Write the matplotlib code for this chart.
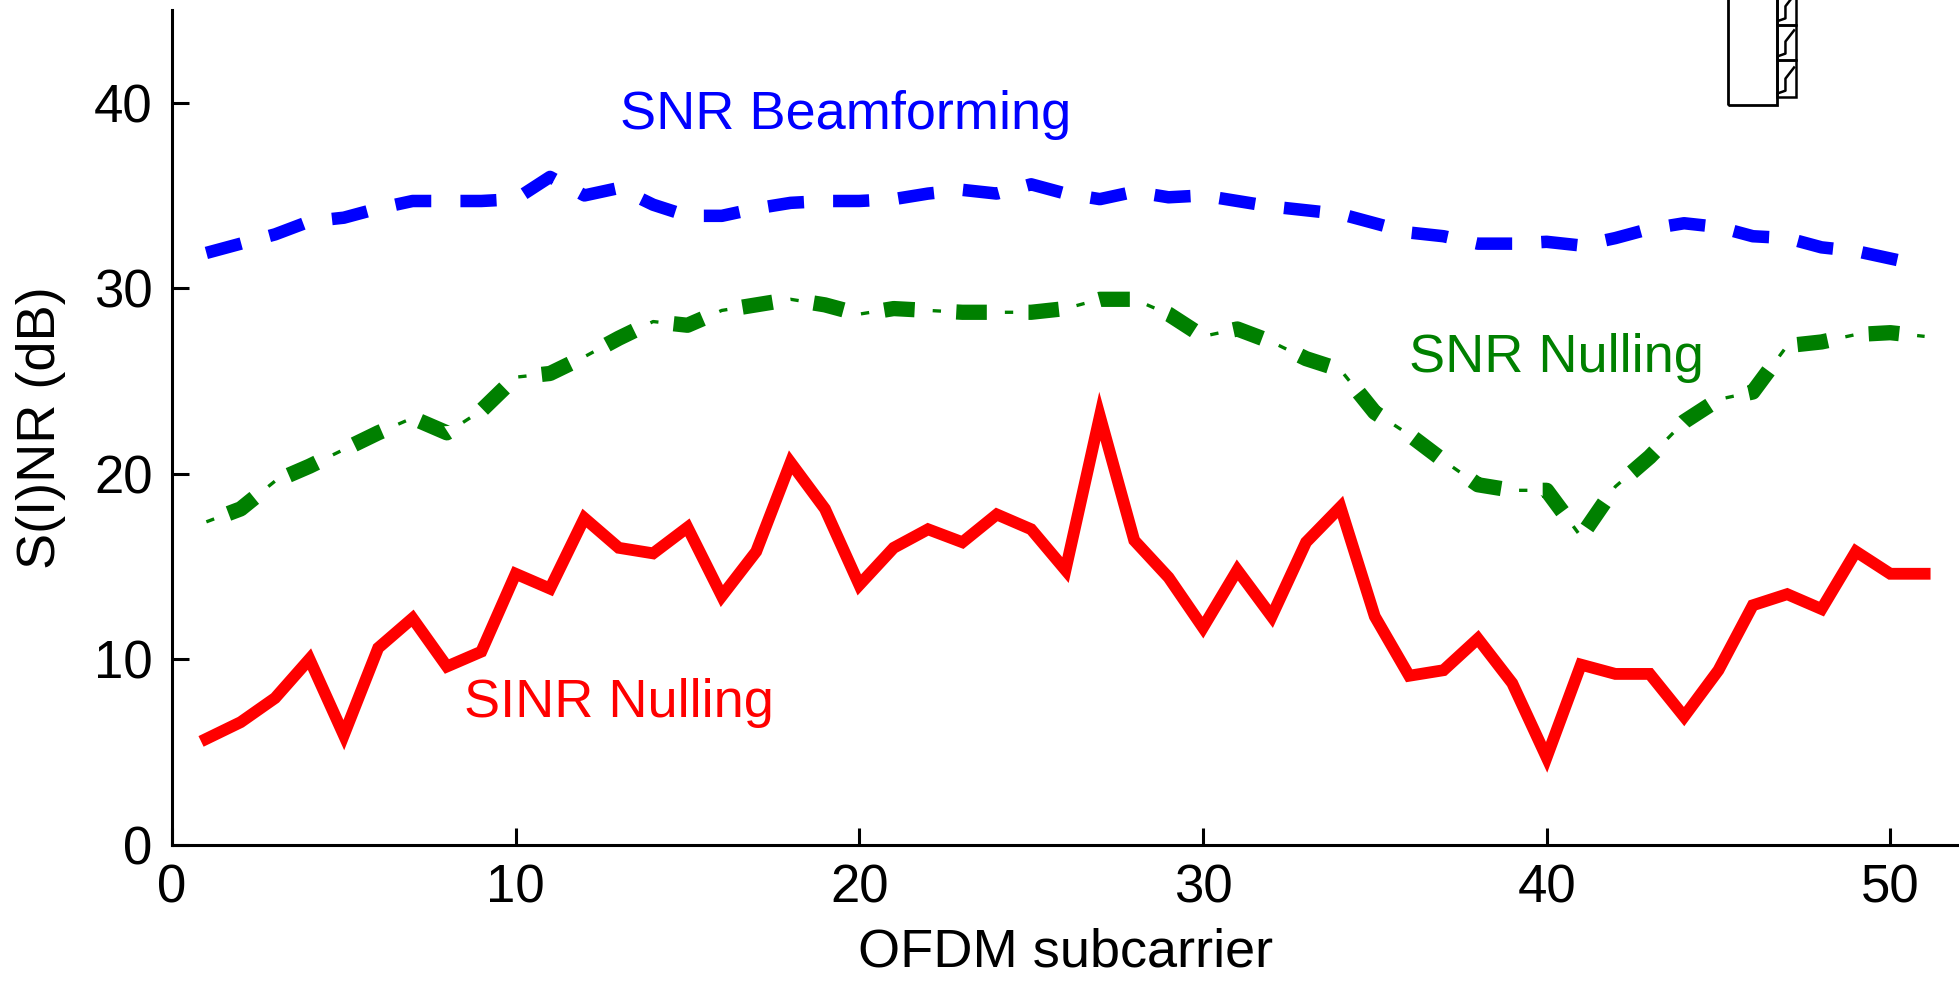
import numpy as np
import matplotlib.pyplot as plt
from matplotlib.patches import Rectangle

plt.rcParams['font.family'] = ['Liberation Sans', 'DejaVu Sans']
plt.rcParams['lines.scale_dashes'] = False

# subcarrier index
subcarrier = np.arange(1, 52)

snr_beamforming = [31.9, 32.4, 32.9, 33.6, 33.8, 34.3, 34.7, 34.7, 34.7, 34.8,
                   36.0, 35.0, 35.4, 34.5, 33.9, 33.9, 34.3, 34.6, 34.7, 34.7,
                   34.8, 35.1, 35.3, 35.1, 35.6, 35.1, 34.8, 35.2, 34.9, 35.0,
                   34.7, 34.4, 34.2, 34.0, 33.5, 33.0, 32.8, 32.4, 32.4, 32.5,
                   32.3, 32.7, 33.2, 33.5, 33.3, 32.8, 32.7, 32.2, 32.0, 31.6,
                   31.2]

snr_nulling = [17.4, 18.1, 19.6, 20.4, 21.3, 22.2, 23.0, 22.2, 23.4, 25.2,
               25.4, 26.3, 27.3, 28.2, 28.0, 28.8, 29.1, 29.4, 29.1, 28.6,
               28.9, 28.8, 28.7, 28.7, 28.7, 28.9, 29.4, 29.4, 28.6, 27.4,
               27.8, 27.1, 26.2, 25.6, 23.3, 22.1, 20.7, 19.4, 19.1, 19.1,
               16.6, 19.3, 20.9, 22.8, 24.0, 24.4, 26.9, 27.1, 27.5, 27.6,
               27.4]

sinr_nulling = [5.7, 6.6, 7.9, 10.0, 5.9, 10.6, 12.2, 9.6, 10.4, 14.6,
                13.8, 17.6, 16.0, 15.7, 17.1, 13.4, 15.8, 20.6, 18.1, 14.0,
                16.0, 17.0, 16.3, 17.8, 17.0, 14.8, 23.1, 16.4, 14.4, 11.7,
                14.8, 12.3, 16.3, 18.2, 12.3, 9.1, 9.4, 11.1, 8.7, 4.7,
                9.7, 9.2, 9.2, 6.9, 9.4, 12.9, 13.5, 12.7, 15.8, 14.6,
                14.6]

fig = plt.figure(figsize=(19.59, 9.88), dpi=100)
ax = fig.add_axes([0.0878, 0.1452, 0.9122, 0.8447])

blue = '#0000ff'
green = '#008000'
red = '#ff0000'

ax.plot(subcarrier, snr_beamforming, color=blue, lw=9,
        linestyle=(0, (26, 21)), dash_capstyle='butt')

# dash-dot: thick dashes plus thin ticks in between
period = 52
ax.plot(subcarrier, snr_nulling, color=green, lw=11,
        linestyle=(period - 17.0, (22, period - 22)), dash_capstyle='butt')
ax.plot(subcarrier, snr_nulling, color=green, lw=2.4,
        linestyle=(0, (6, period - 6)), dash_capstyle='butt')

ax.plot(subcarrier, sinr_nulling, color=red, lw=8.5, solid_joinstyle='miter')

ax.text(13.05, 38.6, 'SNR Beamforming', color=blue, fontsize=39)
ax.text(36.0, 25.5, 'SNR Nulling', color=green, fontsize=39)
ax.text(8.5, 6.9, 'SINR Nulling', color=red, fontsize=39)

# clipped legend box in the top corner
ax.add_patch(Rectangle((45.28, 39.86), 1.42, 10, fill=False, lw=2,
                       ec='black', clip_on=False))
for y0, y1 in [(40.3, 42.3), (42.3, 44.2), (44.2, 46.2)]:
    ax.add_patch(Rectangle((46.7, y0), 0.56, y1 - y0, fill=False, lw=1.8,
                           ec='black', clip_on=False))
    ax.plot([46.72, 46.95, 46.95, 47.2], [y0 + 0.2, y0 + 0.35, y0 + 1.0, y0 + 1.6],
            color='black', lw=1.8, clip_on=False)

ax.set_xlim(0, 52)
ax.set_ylim(0, 45)
ax.set_xticks([0, 10, 20, 30, 40, 50])
ax.set_yticks([0, 10, 20, 30, 40])

for side in ['top', 'right']:
    ax.spines[side].set_visible(False)
for side in ['left', 'bottom']:
    ax.spines[side].set_linewidth(2.2)

ax.tick_params(direction='in', length=12, width=2.2, labelsize=38, pad=14)

ax.set_xlabel('OFDM subcarrier', fontsize=39, labelpad=10)
ax.set_ylabel('S(I)NR (dB)', fontsize=39, labelpad=20)

fig.savefig('out.png', dpi=100)
